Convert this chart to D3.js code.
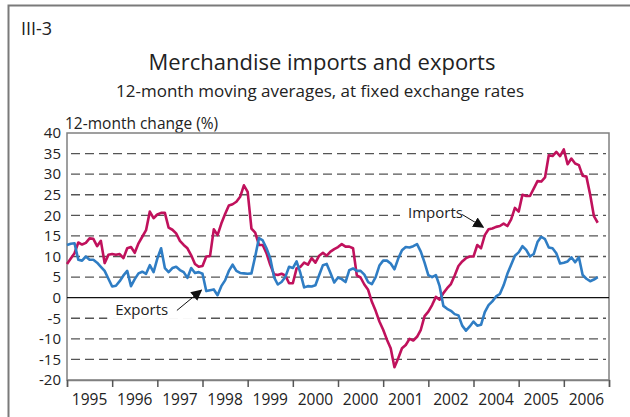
<!DOCTYPE html>
<html>
<head>
<meta charset="utf-8">
<script src="https://cdn.jsdelivr.net/npm/d3@7"></script>
<style>
    body { margin: 0; background: #fff; }
    #chart-area { width: 630px; height: 417px; }
    text { font-family: "Open Sans", sans-serif; fill: #222; }
</style>
</head>
<body>
<div id="chart-area"></div>
<script>
// year labels under the axis (as printed in the source, 2000 twice, no 2003)
const yearLabels = ["1995", "1996", "1997", "1998", "1999", "2000", "2000", "2001", "2002", "2004", "2005", "2006"];
const yTicks = [-20, -15, -10, -5, 0, 5, 10, 15, 20, 25, 30, 35, 40];

// 12-month change (%), monthly from Jan 1995
const imports = [
    8.2, 9.5, 10.8, 13.4, 12.9, 13.3, 14.4, 14.3, 12.5, 13.8, 8.4, 10.4,
    10.6, 10.4, 10.6, 9.6, 12.0, 12.3, 10.9, 13.2, 14.8, 16.4, 20.9, 19.3,
    20.2, 20.6, 20.6, 17.0, 16.5, 15.6, 13.8, 12.8, 12.0, 10.3, 8.2, 7.5,
    7.7, 10.0, 10.1, 16.6, 15.2, 18.0, 20.3, 22.4, 22.7, 23.3, 24.5, 27.3,
    25.7, 16.8, 15.8, 12.8, 12.8, 10.8, 8.0, 5.7, 5.5, 5.8, 5.4, 3.5,
    3.5, 7.1, 7.5, 8.5, 8.0, 9.6, 8.5, 10.2, 10.9, 10.2, 11.2, 11.8,
    12.3, 13.0, 12.4, 12.4, 12.0, 5.4, 4.9, 3.2, 1.9, -1.0, -3.2, -5.8,
    -7.8, -10.2, -12.3, -16.9, -14.7, -12.3, -11.5, -10.0, -10.4, -9.5, -7.8, -4.5,
    -3.4, -1.8, 0.2, -0.5, 1.1, 2.3, 3.3, 5.4, 7.7, 8.8, 9.6, 10.0,
    10.0, 12.8, 12.0, 15.2, 16.6, 16.8, 17.2, 17.4, 18.0, 17.4, 19.0, 21.8,
    20.9, 25.0, 24.7, 24.7, 26.5, 28.3, 28.2, 29.2, 34.6, 34.4, 35.4, 34.4,
    36.0, 32.4, 33.8, 32.6, 32.2, 29.6, 29.4, 25.0, 19.8, 18.2
];

const exports = [
    12.8, 13.1, 13.2, 9.2, 9.0, 10.0, 9.2, 9.2, 8.5, 7.5, 6.5, 4.6,
    2.7, 2.9, 4.0, 5.4, 6.5, 2.8, 4.5, 5.9, 6.3, 5.8, 7.9, 6.2,
    9.5, 12.0, 7.2, 6.2, 7.2, 7.5, 6.7, 6.2, 4.8, 7.2, 6.0, 6.2,
    5.8, 1.6, 1.8, 2.0, 0.6, 2.8, 4.2, 6.5, 8.0, 6.5, 6.0, 5.9,
    5.8, 5.9, 10.0, 14.5, 13.9, 12.0, 9.6, 5.0, 3.2, 3.8, 5.0, 7.5,
    7.2, 8.8, 6.0, 2.5, 2.8, 2.7, 3.0, 5.5, 7.9, 8.2, 6.0, 3.7,
    4.9, 4.5, 3.8, 6.7, 7.1, 6.5, 6.5, 5.6, 3.8, 3.3, 5.0, 7.8,
    9.0, 9.0, 8.3, 6.9, 9.5, 11.5, 12.3, 12.2, 12.5, 13.0, 11.2, 8.5,
    5.5, 5.0, 5.5, 2.8, -2.0, -2.7, -3.2, -4.0, -4.3, -6.8, -8.0, -7.0,
    -5.8, -6.8, -6.6, -3.5, -1.8, -0.9, 0.3, 0.9, 3.0, 5.8, 8.0, 10.2,
    11.0, 12.5, 11.6, 10.0, 10.6, 13.5, 14.8, 14.2, 12.2, 12.0, 10.8, 8.3,
    8.5, 8.8, 9.8, 8.6, 9.8, 5.5, 4.6, 4.0, 4.4, 5.0
];

class MovingAverageChart {
    constructor(parentElement) {
        this.parentElement = parentElement;
        this.initVis();
    }

    initVis() {
        let vis = this;

        vis.margin = { top: 133, right: 21, bottom: 37, left: 67 };
        vis.width = 630 - vis.margin.left - vis.margin.right;
        vis.height = 417 - vis.margin.top - vis.margin.bottom;

        vis.root = d3.select("#" + vis.parentElement)
            .append("svg")
            .attr("width", 630)
            .attr("height", 417);

        // outer frame (only top and left show)
        vis.root.append("rect")
            .attr("x", 8.5).attr("y", 5.5)
            .attr("width", 640).attr("height", 430)
            .attr("fill", "none")
            .attr("stroke", "#7a7a7a")
            .attr("stroke-width", 2);

        vis.root.append("text")
            .attr("x", 21).attr("y", 35)
            .style("font-size", "18px")
            .text("III-3");

        vis.root.append("text")
            .attr("x", 322).attr("y", 70)
            .attr("text-anchor", "middle")
            .style("font-size", "22px")
            .text("Merchandise imports and exports");

        vis.root.append("text")
            .attr("x", 320).attr("y", 97)
            .attr("text-anchor", "middle")
            .style("font-size", "17px")
            .text("12-month moving averages, at fixed exchange rates");

        vis.root.append("text")
            .attr("x", 65).attr("y", 129)
            .style("font-size", "15.5px")
            .text("12-month change (%)");

        vis.svg = vis.root.append("g")
            .attr("transform", `translate(${vis.margin.left}, ${vis.margin.top})`);

        vis.x = d3.scaleLinear()
            .domain([0, 144])
            .range([0, vis.width]);

        vis.y = d3.scaleLinear()
            .domain([-20, 40])
            .range([vis.height, 0]);

        vis.updateVis();
    }

    // label on a white patch that hides the grid behind it
    addLabel(text, xi, yv, padLeft, padRight) {
        let vis = this;
        const g = vis.svg.append("g");
        const rect = g.append("rect").attr("fill", "#fff");
        const label = g.append("text")
            .attr("x", vis.x(xi)).attr("y", vis.y(yv))
            .style("font-size", "15px")
            .text(text);
        const box = label.node().getBBox();
        rect.attr("x", box.x - padLeft)
            .attr("y", box.y)
            .attr("width", box.width + padLeft + padRight)
            .attr("height", box.height);
    }

    updateVis() {
        let vis = this;

        // dashed grid
        vis.svg.selectAll(".grid")
            .data(yTicks.filter(d => d !== 0 && d !== 40 && d !== -20))
            .enter()
            .append("line")
            .attr("class", "grid")
            .attr("x1", 4).attr("x2", vis.width - 3)
            .attr("y1", d => vis.y(d)).attr("y2", d => vis.y(d))
            .attr("stroke", "#555")
            .attr("stroke-width", 1.3)
            .attr("stroke-dasharray", "9,5");

        // plot frame
        vis.svg.append("rect")
            .attr("width", vis.width).attr("height", vis.height)
            .attr("fill", "none")
            .attr("stroke", "#808080")
            .attr("stroke-width", 1.5);

        vis.svg.append("line")
            .attr("x1", 0).attr("x2", vis.width)
            .attr("y1", vis.y(0)).attr("y2", vis.y(0))
            .attr("stroke", "#111")
            .attr("stroke-width", 1.2);

        // y axis labels
        const yAxis = vis.svg.append("g")
            .call(d3.axisLeft(vis.y).tickValues(yTicks).tickSize(0).tickPadding(6)
                .tickFormat(d => String(d)));
        yAxis.select(".domain").remove();
        yAxis.selectAll("text")
            .style("font-size", "15px")
            .style("font-family", "'Open Sans', sans-serif")
            .attr("fill", "#222");

        // x axis: ticks at year boundaries, labels between them
        const xAxis = vis.svg.append("g")
            .attr("transform", `translate(0, ${vis.height})`)
            .call(d3.axisBottom(vis.x)
                .tickValues(d3.range(0, 145, 12))
                .tickSize(7)
                .tickFormat(""));
        xAxis.select(".domain").attr("stroke", "#808080").attr("stroke-width", 1.5);
        xAxis.selectAll(".tick line").attr("stroke", "#555").attr("stroke-width", 1.5);

        vis.svg.selectAll(".year-label")
            .data(yearLabels)
            .enter()
            .append("text")
            .attr("class", "year-label")
            .attr("x", (d, i) => vis.x(i * 12 + 6))
            .attr("y", vis.height + 25)
            .attr("text-anchor", "middle")
            .style("font-size", "15.5px")
            .text(d => d);

        // annotations
        vis.root.append("defs").append("marker")
            .attr("id", "arrow")
            .attr("viewBox", "0 0 10 10")
            .attr("refX", 9).attr("refY", 5)
            .attr("markerWidth", 11).attr("markerHeight", 11)
            .attr("markerUnits", "userSpaceOnUse")
            .attr("orient", "auto")
            .append("path")
            .attr("d", "M0,0 L10,5 L0,10 z")
            .attr("fill", "#111");

        vis.addLabel("Imports", 90.6, 19.4, 8, 26);
        vis.addLabel("Exports", 12.8, -4.2, 8, 30);

        vis.svg.append("line")
            .attr("x1", vis.x(105)).attr("y1", vis.y(20.2))
            .attr("x2", vis.x(110.6)).attr("y2", vis.y(17.1))
            .attr("stroke", "#111").attr("stroke-width", 1)
            .attr("marker-end", "url(#arrow)");

        vis.svg.append("line")
            .attr("x1", vis.x(29.2)).attr("y1", vis.y(-3.1))
            .attr("x2", vis.x(35.7)).attr("y2", vis.y(1.8))
            .attr("stroke", "#111").attr("stroke-width", 1)
            .attr("marker-end", "url(#arrow)");

        const line = d3.line()
            .x((d, i) => vis.x(i))
            .y(d => vis.y(d));

        vis.svg.append("path")
            .datum(imports)
            .attr("fill", "none")
            .attr("stroke", "#c0115c")
            .attr("stroke-width", 2.6)
            .attr("stroke-linejoin", "round")
            .attr("d", line);

        vis.svg.append("path")
            .datum(exports)
            .attr("fill", "none")
            .attr("stroke", "#2f7dc4")
            .attr("stroke-width", 2.6)
            .attr("stroke-linejoin", "round")
            .attr("d", line);
    }
}

new MovingAverageChart("chart-area");
</script>
</body>
</html>
